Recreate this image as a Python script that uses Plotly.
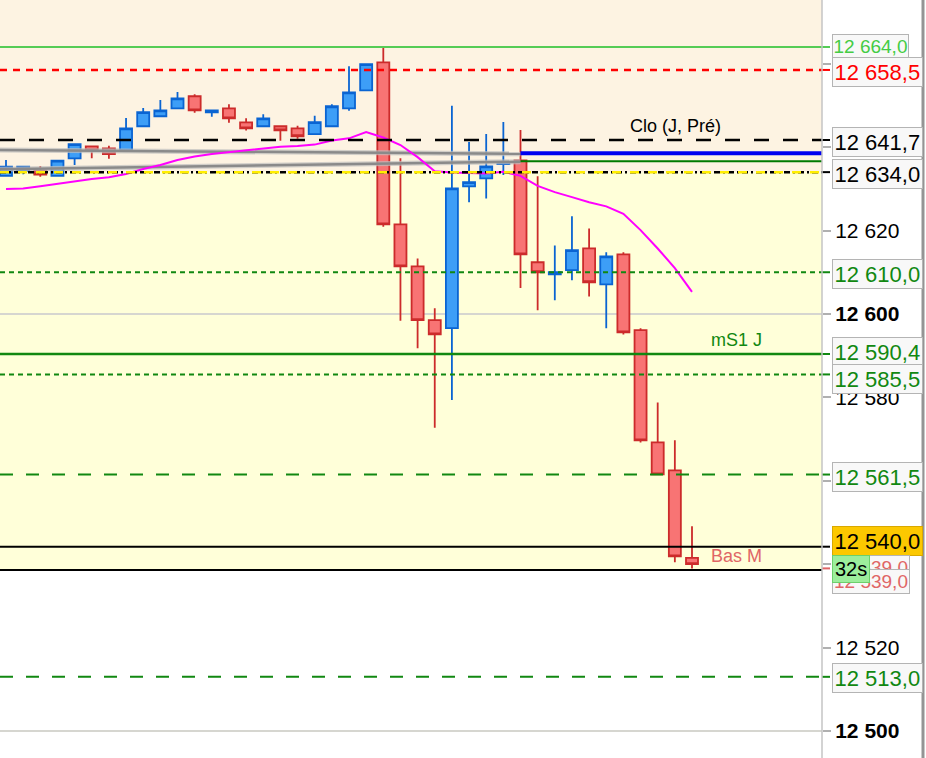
import plotly.graph_objects as go

# ---------------- data ----------------
idx = list(range(41))
opens = [12633.1, 12634.3, 12634.35, 12633.1, 12637.3, 12640.2, 12639.7, 12639.3, 12645.0, 12647.4,
         12649.3, 12652.2, 12648.35, 12649.3, 12645.95, 12645.0, 12645.0, 12644.5, 12643.1, 12645.0,
         12649.3, 12653.6, 12660.3, 12621.5, 12611.4, 12598.5, 12596.6, 12630.6, 12632.5, 12635.9,
         12636.8, 12612.4, 12609.5, 12610.5, 12615.7, 12607.1, 12614.3, 12596.1, 12569.2, 12562.5,
         12541.5]
highs = [12636.9, 12635.3, 12635.5, 12636.75, 12640.7, 12640.2, 12640.3, 12647.0, 12649.4, 12651.3,
         12653.2, 12652.7, 12648.8, 12650.3, 12646.9, 12647.9, 12645.0, 12645.1, 12647.5, 12650.3,
         12659.4, 12659.9, 12664.0, 12637.3, 12613.3, 12601.35, 12649.9, 12641.2, 12643.15, 12646.0,
         12644.1, 12633.0, 12616.4, 12623.4, 12620.5, 12614.8, 12614.8, 12596.55, 12578.8, 12569.7,
         12549.1]
lows = [12633.0, 12633.5, 12632.9, 12633.1, 12635.7, 12637.3, 12637.2, 12639.3, 12645.0, 12647.4,
        12649.3, 12648.25, 12647.3, 12645.85, 12644.0, 12645.0, 12641.55, 12642.0, 12643.1, 12645.0,
        12648.7, 12653.6, 12620.9, 12598.4, 12591.8, 12572.7, 12579.4, 12626.8, 12627.7, 12633.3,
        12606.2, 12600.9, 12603.3, 12608.1, 12604.2, 12596.6, 12595.1, 12569.2, 12561.55, 12540.5,
        12539.0]
closes = [12635.3, 12635.3, 12633.4, 12636.75, 12640.7, 12639.2, 12638.3, 12644.5, 12648.4, 12648.8,
          12651.7, 12648.8, 12648.8, 12646.9, 12644.5, 12646.9, 12644.0, 12642.6, 12646.0, 12649.8,
          12653.1, 12659.9, 12621.5, 12611.4, 12598.5, 12595.1, 12630.1, 12631.6, 12635.4, 12636.4,
          12614.3, 12610.0, 12610.0, 12615.3, 12607.6, 12613.8, 12595.6, 12569.7, 12561.55, 12541.9,
          12540.0]
ma_magenta = [12629.96, 12630.1, 12630.6, 12631.2, 12631.75, 12632.35, 12632.8, 12633.55, 12634.75, 12635.7,
              12636.9, 12637.75, 12638.35, 12638.8, 12639.3, 12639.8, 12640.1, 12640.25, 12640.6, 12641.6,
              12642.1, 12643.6, 12642.3, 12640.5, 12637.6, 12634.2, 12633.9, 12633.8, 12633.7, 12634.1,
              12633.1, 12630.7, 12629.2, 12628.0, 12626.8, 12625.8, 12624.0, 12620.1, 12615.7, 12611.0,
              12605.3]

gray_ma_upper = [12639.3, 12638.4]   # from left edge to switch candle
gray_ma_lower = [12634.7, 12636.5]
blue_level = 12638.5                 # from switch candle to right edge
green_level = 12636.6
switch_idx = 30

# horizontal levels
lvl_green_top = 12664.0
lvl_red = 12658.5
lvl_clo = 12641.7
lvl_yellow = 12634.0
lvl_dot1 = 12610.0
lvl_ms1 = 12590.4
lvl_dot2 = 12585.5
lvl_dash1 = 12561.5
lvl_black1 = 12544.2
lvl_basm = 12538.6
lvl_dash2 = 12513.0

grid_levels = [12500, 12600]
tick_vals = [12500, 12520, 12540, 12560, 12580, 12600, 12620, 12640, 12660]

label_vals = [12664.0, 12658.5, 12641.7, 12634.0, 12610.0, 12590.4, 12585.5, 12561.5,
              12540.0, 12539.0, 12539.0, 12513.0]
timer_text = "32s"

# ---------------- geometry ----------------
W, H = 926, 758
R_MARGIN = 104
PW = W - R_MARGIN
x_range = [-0.35, 47.58]
y_range = [12493.54, 12675.27]


def fmt(v):
    return f"{v:,.1f}".replace(",", " ").replace(".", ",")


def fmt_tick(v):
    return f"{v:,.0f}".replace(",", " ")


FONT = "Liberation Sans, Arial, Helvetica, sans-serif"

fig = go.Figure()

fig.add_trace(go.Candlestick(
    x=idx, open=opens, high=highs, low=lows, close=closes,
    increasing=dict(line=dict(color="#0a64d2", width=1.8), fillcolor="#3d9ef7"),
    decreasing=dict(line=dict(color="#cc2b2b", width=1.8), fillcolor="#f87474"),
    whiskerwidth=0, showlegend=False, hoverinfo="skip",
))

# gray MAs with halo
for yy in (gray_ma_upper, gray_ma_lower):
    fig.add_trace(go.Scatter(x=[x_range[0], switch_idx], y=yy, mode="lines",
                             line=dict(color="rgba(190,190,190,0.7)", width=5),
                             showlegend=False, hoverinfo="skip"))
    fig.add_trace(go.Scatter(x=[x_range[0], switch_idx], y=yy, mode="lines",
                             line=dict(color="#8a8a8a", width=2.5),
                             showlegend=False, hoverinfo="skip"))

fig.add_trace(go.Scatter(x=[switch_idx, x_range[1]], y=[blue_level, blue_level], mode="lines",
                         line=dict(color="#0000f0", width=4), showlegend=False, hoverinfo="skip"))
fig.add_trace(go.Scatter(x=[switch_idx, x_range[1]], y=[green_level, green_level], mode="lines",
                         line=dict(color="#007a00", width=2), showlegend=False, hoverinfo="skip"))

fig.add_trace(go.Scatter(x=idx, y=ma_magenta, mode="lines",
                         line=dict(color="#ff00ff", width=2), showlegend=False, hoverinfo="skip"))

shapes = []
# background bands
shapes.append(dict(type="rect", xref="paper", yref="y", x0=0, x1=1, y0=lvl_yellow, y1=y_range[1] + 5,
                   fillcolor="#fdf3e2", line=dict(width=0), layer="below"))
shapes.append(dict(type="rect", xref="paper", yref="y", x0=0, x1=1, y0=lvl_basm, y1=lvl_yellow,
                   fillcolor="#ffffd9", line=dict(width=0), layer="below"))
for g in grid_levels:
    shapes.append(dict(type="line", xref="paper", yref="y", x0=0, x1=1, y0=g, y1=g,
                       line=dict(color="#d6d6d0", width=2), layer="below"))

lines = [
    (lvl_green_top, "#55cc55", "solid", 2),
    (lvl_red, "#ff0000", "7px,6px", 2.5),
    (lvl_clo, "#000000", "15px,14px", 2.5),
    (lvl_dot1, "#118811", "5px,4px", 2),
    (lvl_ms1, "#118811", "solid", 2.5),
    (lvl_dot2, "#118811", "5px,4px", 2),
    (lvl_dash1, "#118811", "13px,13px", 2),
    (lvl_black1, "#000000", "solid", 2),
    (lvl_basm, "#000000", "solid", 2),
    (lvl_dash2, "#118811", "13px,13px", 2),
]
for v, c, d, w in lines:
    shapes.append(dict(type="line", xref="paper", yref="y", x0=0, x1=1, y0=v, y1=v,
                       line=dict(color=c, width=w, dash=d), layer="above"))
# yellow/black line
shapes.append(dict(type="line", xref="paper", yref="y", x0=0, x1=1, y0=lvl_yellow, y1=lvl_yellow,
                   line=dict(color="#000000", width=2.5, dash="6px,3px,2px,3px"), layer="above"))
shapes.append(dict(type="line", xref="paper", yref="y", x0=0, x1=1, y0=lvl_yellow, y1=lvl_yellow,
                   line=dict(color="#ffee00", width=2.5, dash="9px,9px"), layer="above"))

# small coloured ticks in the price scale
tick_marks = [(lvl_green_top, "#55cc55"), (lvl_red, "#ff0000"), (lvl_clo, "#000000"),
              (lvl_yellow, "#000000"), (lvl_dot1, "#118811"), (lvl_ms1, "#118811"),
              (lvl_dot2, "#118811"), (lvl_dash1, "#118811"), (lvl_dash2, "#118811"),
              (lvl_black1, "#000000"), (12539.0, "#e06666")]
for v, c in tick_marks:
    shapes.append(dict(type="line", xref="paper", yref="y", x0=1.0, x1=1 + 8 / PW, y0=v, y1=v,
                       line=dict(color=c, width=2), layer="above"))

# frame lines
shapes.append(dict(type="line", xref="paper", yref="paper", x0=1, x1=1, y0=0, y1=1,
                   line=dict(color="#c4c4c4", width=1.5), layer="above"))
shapes.append(dict(type="line", xref="paper", yref="paper", x0=923 / PW, x1=923 / PW, y0=0, y1=1,
                   line=dict(color="#949494", width=3), layer="above"))

annotations = []
# in-chart texts
annotations.append(dict(text="Clo (J, Pré)", xref="paper", yref="y", x=675 / PW, y=lvl_clo,
                        xanchor="center", yanchor="bottom", yshift=2, showarrow=False,
                        font=dict(family=FONT, size=18, color="#000000")))
annotations.append(dict(text="mS1 J", xref="paper", yref="y", x=736 / PW, y=lvl_ms1,
                        xanchor="center", yanchor="bottom", yshift=2, showarrow=False,
                        font=dict(family=FONT, size=18, color="#118811")))
annotations.append(dict(text="Bas M", xref="paper", yref="y", x=736 / PW, y=lvl_basm,
                        xanchor="center", yanchor="bottom", yshift=2, showarrow=False,
                        font=dict(family=FONT, size=18, color="#e06666")))

# price labels: (color, size, bg, yshift, pad)
label_styles = [
    ("#44cc44", 19, "#f8f8f8", 1, 0.5),
    ("#ff0000", 22, "#f8f8f8", -2, 1.5),
    ("#000000", 22, "#f8f8f8", -2, 1.5),
    ("#000000", 22, "#f8f8f8", -2, 1.5),
    ("#118811", 22, "#f8f8f8", -2, 1.5),
    ("#118811", 22, "#f8f8f8", 2, 1.5),
    ("#118811", 22, "#f8f8f8", -5, 1.5),
    ("#118811", 22, "#f8f8f8", -2, 1.5),
    ("#000000", 22, "#fcc800", 23, 1.5),
    ("#e06666", 19, "#f8f8f8", 1, 1),
    ("#e06666", 19, "#f8f8f8", -13, 1),
    ("#118811", 22, "#f8f8f8", -1.5, 1.5),
]
lx = 1 + 10.5 / PW
for v, (c, s, bg, ys, pad) in zip(label_vals, label_styles):
    annotations.append(dict(text=fmt(v), xref="paper", yref="y", x=lx, y=v, xanchor="left",
                            yanchor="middle", yshift=ys, showarrow=False, borderpad=pad,
                            bgcolor=bg, bordercolor="#d9a800" if bg == "#fcc800" else "#b4b4b4",
                            borderwidth=1, font=dict(family=FONT, size=s, color=c)))
annotations.append(dict(text=timer_text, xref="paper", yref="y", x=lx, y=12539.0, xanchor="left",
                        yanchor="middle", yshift=-1, showarrow=False, borderpad=2,
                        bgcolor="#9cee9c", bordercolor="#6cd06c", borderwidth=1,
                        font=dict(family=FONT, size=20, color="#000000")))

tick_text = [f"<b>{fmt_tick(t)}</b>" if t in grid_levels else fmt_tick(t) for t in tick_vals]

fig.update_layout(
    width=W, height=H,
    margin=dict(l=0, r=R_MARGIN, t=0, b=0, pad=0),
    paper_bgcolor="#ffffff", plot_bgcolor="#ffffff",
    showlegend=False,
    boxgap=0, boxgroupgap=0.3,
    shapes=shapes, annotations=annotations,
    xaxis=dict(range=x_range, visible=False, rangeslider=dict(visible=False), fixedrange=True),
    yaxis=dict(range=y_range, side="right", tickvals=tick_vals, ticktext=tick_text,
               ticks="outside", ticklen=8, tickwidth=2, tickcolor="#b0b0b0",
               showgrid=False, zeroline=False, showline=False,
               tickfont=dict(family=FONT, size=21, color="#000000")),
    font=dict(family=FONT),
)

fig.write_html("out.html", config={"displayModeBar": False},
               post_script="document.body.style.margin='0px';document.body.style.overflow='hidden';")
